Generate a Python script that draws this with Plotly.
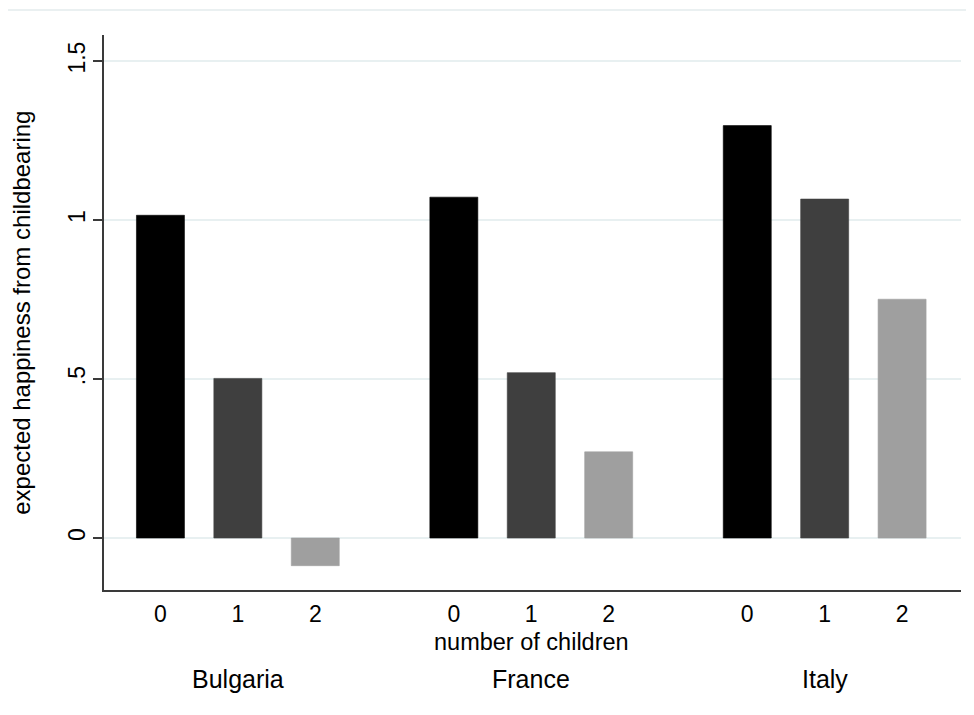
import plotly.graph_objects as go

countries = ["Bulgaria", "France", "Italy"]
children = ["0", "1", "2"]
# expected happiness from childbearing, per number of children (0, 1, 2)
bulgaria = [1.015, 0.502, -0.087]
france = [1.072, 0.520, 0.271]
italy = [1.297, 1.066, 0.751]
values = [bulgaria, france, italy]

ytick_vals = [0, 0.5, 1, 1.5]
ytick_text = ["0", ".5", "1", "1.5"]

bar_colors = ["#000000", "#3f3f3f", "#9f9f9f"]

GROUP_STEP = 3.79   # distance between country groups, in child-slot units
BAR_WIDTH = 0.62

FONT = "Liberation Sans, Arial, Helvetica, sans-serif"

fig = go.Figure()
tick_pos, tick_lab = [], []
for gi, (country, vals) in enumerate(zip(countries, values)):
    xs = [gi * GROUP_STEP + ci for ci in range(len(children))]
    tick_pos += xs
    tick_lab += children
    fig.add_trace(go.Bar(
        x=xs, y=vals, width=BAR_WIDTH,
        marker=dict(color=bar_colors, line=dict(color=bar_colors, width=0.6)),
        showlegend=False, hoverinfo="x+y",
    ))

for gi, country in enumerate(countries):
    fig.add_annotation(
        x=gi * GROUP_STEP + 1, y=-0.1604, xref="x", yref="paper",
        text=country, showarrow=False, xanchor="center", yanchor="middle",
        font=dict(family=FONT, size=25, color="#000000"),
    )

fig.add_annotation(
    x=GROUP_STEP + 1, y=-0.0937, xref="x", yref="paper",
    text="number of children", showarrow=False, xanchor="center", yanchor="middle",
    font=dict(family=FONT, size=23.5, color="#000000"),
)

fig.add_annotation(
    x=-0.0965, y=0.5, xref="paper", yref="paper",
    text="expected happiness from childbearing", textangle=-90,
    showarrow=False, xanchor="center", yanchor="middle",
    font=dict(family=FONT, size=24, color="#000000"),
)

# light outer frame (top and left edges visible)
fig.add_shape(type="rect", xref="paper", yref="paper",
              x0=-0.1132, y0=-0.5, x1=1.2, y1=1.045,
              line=dict(color="#e4eced", width=1.5), layer="below")

fig.update_layout(
    width=966, height=707,
    margin=dict(l=96, r=13, t=27, b=125),
    paper_bgcolor="#ffffff", plot_bgcolor="#ffffff",
    font=dict(family=FONT, size=23, color="#000000"),
    barmode="overlay",
)
fig.update_xaxes(
    range=[-0.729, 2 * GROUP_STEP + 2 + 0.761],
    tickmode="array", tickvals=tick_pos, ticktext=tick_lab,
    ticks="", showgrid=False, zeroline=False,
    showline=True, linecolor="#3a3a3a", linewidth=2,
    tickfont=dict(family=FONT, size=23, color="#000000"),
    ticklabelstandoff=2,
)
fig.update_yaxes(
    range=[-0.1635, 1.582],
    tickmode="array", tickvals=ytick_vals, ticktext=ytick_text,
    tickangle=-90, ticks="outside", ticklen=9, tickwidth=1.5, tickcolor="#3a3a3a",
    showgrid=True, gridcolor="#e8f0f1", gridwidth=1.5,
    zeroline=False,
    showline=True, linecolor="#3a3a3a", linewidth=2,
    tickfont=dict(family=FONT, size=23, color="#000000"),
    ticklabelstandoff=-1,
)

fig.write_html("out.html")
